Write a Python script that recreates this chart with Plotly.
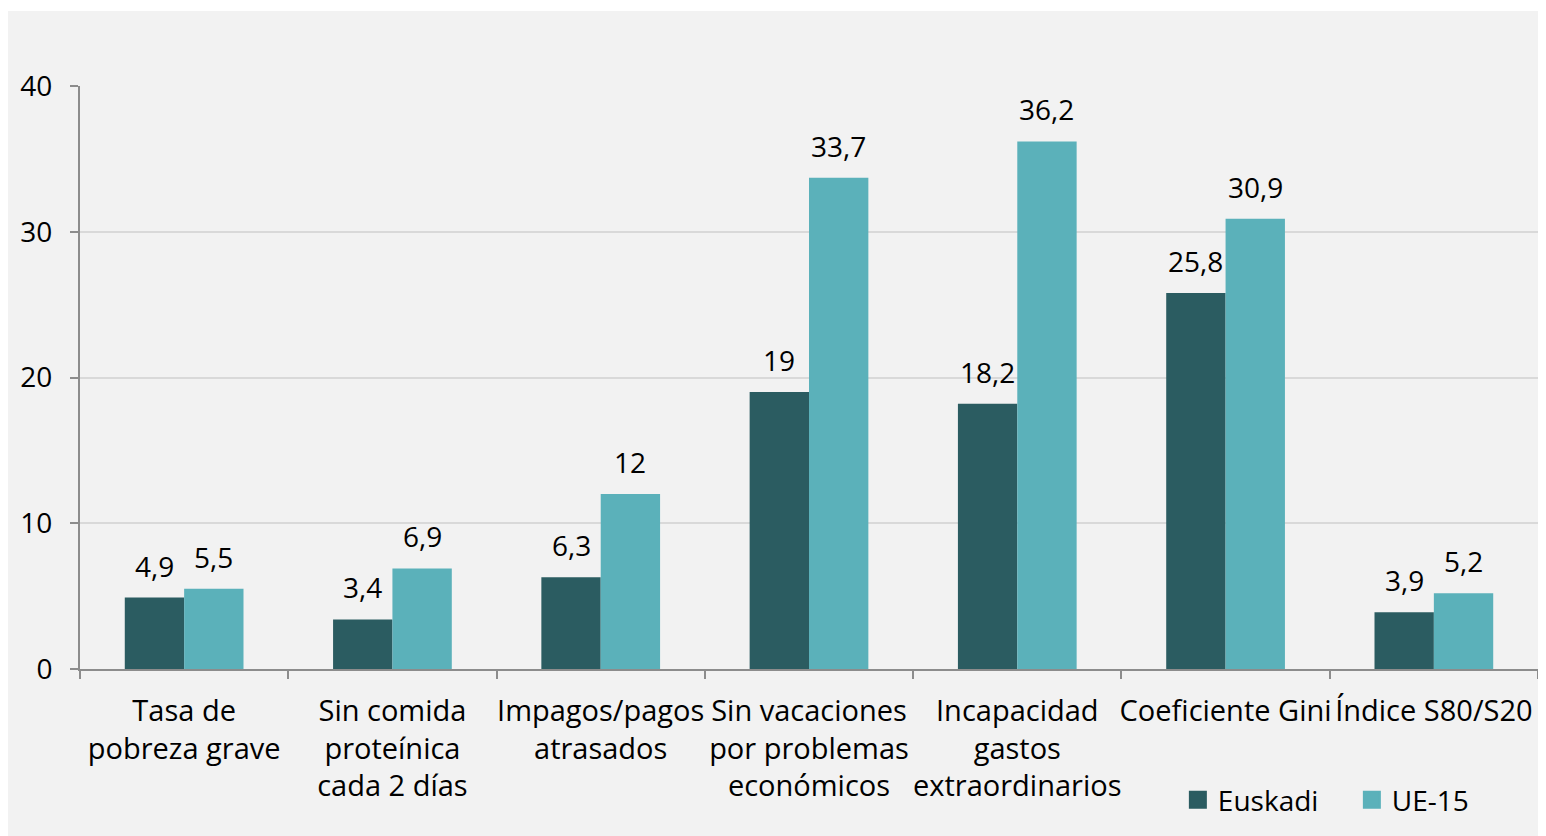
import plotly.graph_objects as go

categories = [
    "Tasa de<br>pobreza grave",
    "Sin comida<br>proteínica<br>cada 2 días",
    "Impagos/pagos<br>atrasados",
    "Sin vacaciones<br>por problemas<br>económicos",
    "Incapacidad<br>gastos<br>extraordinarios",
    "Coeficiente Gini",
    "Índice S80/S20",
]
series_names = ["Euskadi", "UE-15"]
euskadi = [4.9, 3.4, 6.3, 19, 18.2, 25.8, 3.9]
ue15 = [5.5, 6.9, 12, 33.7, 36.2, 30.9, 5.2]
colors = ["#2B5C61", "#5BB1BA"]

def fmt(v):
    return f"{v:g}".replace(".", ",")

FONT = "Open Sans"
FS = 28
BARGAP = 0.43
# page body has an 8px margin, so the figure is 8px smaller than the window
W, H = 1538, 828
ml, mr, mt, mb = 72, 8, 78, 167
pw, ph = W - ml - mr, H - mt - mb

fig = go.Figure()
for name, vals, col in zip(series_names, [euskadi, ue15], colors):
    fig.add_trace(go.Bar(
        name=name, x=categories, y=vals, legendgroup=name, showlegend=False,
        marker=dict(color=col, line=dict(width=0)),
    ))
for name, col in zip(series_names, colors):
    fig.add_trace(go.Scatter(
        name=name, x=[None], y=[None], mode="markers", legendgroup=name,
        marker=dict(symbol="square", size=16, color=col, line=dict(width=2, color=col)),
        showlegend=True,
    ))

# value labels above each bar (centred over the bar within its group)
bar_shift = pw / len(categories) * (1 - BARGAP) / 4
for k, vals in enumerate([euskadi, ue15]):
    for cat, v in zip(categories, vals):
        fig.add_annotation(
            x=cat, y=v, xref="x", yref="y", text=fmt(v), showarrow=False,
            xanchor="center", yanchor="bottom",
            xshift=(-1 if k == 0 else 1) * bar_shift, yshift=11,
            font=dict(family=FONT, size=FS, color="#000000"),
        )

fig.add_shape(
    type="rect", xref="paper", yref="paper", layer="below",
    x0=-ml / pw, x1=1 + mr / pw,
    y0=-mb / ph, y1=(H - 3 - mb) / ph,
    fillcolor="#F2F2F2", line=dict(width=0),
)

fig.update_layout(
    width=W, height=H,
    margin=dict(l=ml, r=mr, t=mt, b=mb, autoexpand=False),
    paper_bgcolor="#FFFFFF", plot_bgcolor="rgba(0,0,0,0)",
    barmode="group", bargap=BARGAP, bargroupgap=0,
    font=dict(family=FONT, size=FS, color="#000000"),
    showlegend=True,
    legend=dict(
        orientation="h", x=0.753, xanchor="left", y=-0.2247, yanchor="middle",
        font=dict(family=FONT, size=FS, color="#000000"),
        bgcolor="rgba(0,0,0,0)", tracegroupgap=0,
        entrywidth=129, entrywidthmode="pixels", itemsizing="trace",
    ),
    xaxis=dict(
        showgrid=False, showline=True, linecolor="#8C8C8C", linewidth=2,
        ticks="outside", tickson="boundaries", ticklen=8, tickcolor="#8C8C8C",
        tickwidth=2, tickfont=dict(family=FONT, size=29, color="#000000"),
        ticklabelstandoff=15, tickangle=0, automargin=False,
    ),
    yaxis=dict(
        range=[0, 40], dtick=10, showgrid=True, gridcolor="#D9D9D9", gridwidth=2,
        showline=True, linecolor="#8C8C8C", linewidth=2, zeroline=False,
        ticks="outside", ticklen=8, tickcolor="#8C8C8C", tickwidth=2,
        tickfont=dict(family=FONT, size=FS, color="#000000"),
        ticklabelstandoff=12, automargin=False,
    ),
)

fig.write_html("out.html")
